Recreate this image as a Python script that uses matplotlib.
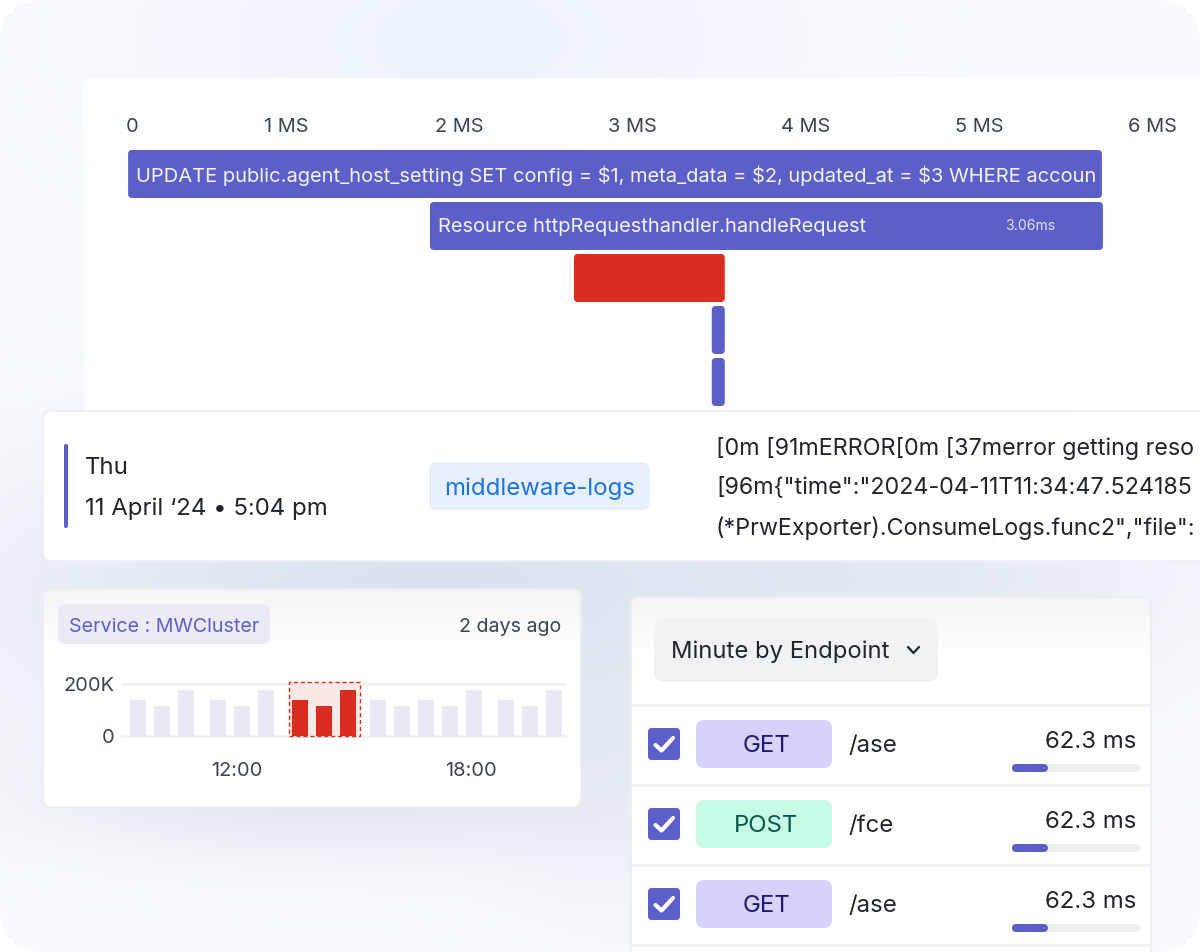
import matplotlib
matplotlib.use("Agg")
import matplotlib.pyplot as plt
import matplotlib.transforms as mtrans
from matplotlib.patches import FancyBboxPatch
import numpy as np

plt.rcParams['font.family'] = ['Inter', 'DejaVu Sans']

# timeline
tick_ms = [0, 1, 2, 3, 4, 5, 6]
tick_labels = ['0', '1 MS', '2 MS', '3 MS', '4 MS', '5 MS', '6 MS']
span_start = [0.09, 1.831, 2.661, 3.456, 3.456]
span_end = [5.706, 5.712, 3.531, 3.531, 3.531]
span_kind = ['ok', 'ok', 'error', 'ok', 'ok']
span_text = ['UPDATE public.agent_host_setting SET config = $1, meta_data = $2, updated_at = $3 WHERE accoun',
             'Resource httpRequesthandler.handleRequest', '', '', '']

# log line
log_lines = ['[0m [91mERROR[0m [37merror getting reso',
             '[96m{"time":"2024-04-11T11:34:47.524185',
             '(*PrwExporter).ConsumeLogs.func2","file":']

# mini bar chart
bar_hours = [9.46, 10.08, 10.69, 11.51, 12.13, 12.74, 13.62, 14.23, 14.85,
             15.62, 16.23, 16.85, 17.46, 18.08, 18.9, 19.51, 20.13]
bar_values = [138, 115, 177, 138, 115, 177, 138, 115, 177,
              138, 115, 138, 115, 177, 138, 115, 177]
bar_error = [False] * 6 + [True] * 3 + [False] * 8

# endpoint table
methods = ['GET', 'POST', 'GET']
paths = ['/ase', '/fce', '/ase']
latency_ms = [62.3, 62.3, 62.3]
latency_fill = [28, 28, 28]

W, H = 1200, 952
INDIGO = '#5c5fc7'
RED = '#da2c1f'
DARK = '#20242c'
SLATE = '#3a4454'


def fs(px):
    return px * 0.72


def px_axes(x0, y0, x1, y1):
    a = fig.add_axes([x0 / W, 1 - y1 / H, (x1 - x0) / W, (y1 - y0) / H])
    a.patch.set_visible(False)
    for s in a.spines.values():
        s.set_visible(False)
    return a


def box(x0, y0, x1, y1, r, color, **kw):
    p = FancyBboxPatch((x0, y0), x1 - x0, y1 - y0,
                       boxstyle=f'round,pad=0,rounding_size={r}',
                       facecolor=color, edgecolor=kw.pop('edgecolor', 'none'), **kw)
    base.add_patch(p)
    return p


def rbar(a, x0, x1, yc, h, rpx, color):
    # rounded bar in data units of a, corners stay round in pixels
    bb = a.get_window_extent()
    sx = bb.width / abs(np.diff(a.get_xlim())[0])
    sy = bb.height / abs(np.diff(a.get_ylim())[0])
    p = FancyBboxPatch((x0, yc - h / 2), x1 - x0, h,
                       boxstyle=f'round,pad=0,rounding_size={rpx / sx}',
                       mutation_aspect=sx / sy, facecolor=color, edgecolor='none')
    a.add_patch(p)


def blob(img, cx, cy, sx, sy, color, strength=1.0):
    a = strength * np.exp(-((xx - cx) / sx) ** 2 - ((yy - cy) / sy) ** 2)
    img[:] = img * (1 - a[..., None]) + np.array(color) * a[..., None]


def rgb(h):
    return matplotlib.colors.to_rgb(h)


fig = plt.figure(figsize=(W / 100, H / 100), dpi=100, facecolor='white')
base = fig.add_axes([0, 0, 1, 1])
base.set_xlim(0, W)
base.set_ylim(H, 0)
base.axis('off')

# page background
yy, xx = np.mgrid[0:H, 0:W]
bg = np.ones((H, W, 3)) * np.array(rgb('#f9fbfe'))
blob(bg, 470, 40, 320, 160, rgb('#edf3fe'))
blob(bg, 480, 600, 500, 170, rgb('#d9e2ee'))
blob(bg, 900, 570, 260, 90, rgb('#dfe6f1'), 0.6)
blob(bg, 620, 740, 130, 170, rgb('#e3eaf4'), 0.6)
blob(bg, 330, 790, 300, 65, rgb('#e0e5ee'), 0.8)
im = base.imshow(bg, extent=(0, W, H, 0), aspect='auto', zorder=0)
frame = FancyBboxPatch((0, 0), W, H, boxstyle='round,pad=0,rounding_size=42',
                       transform=base.transData, facecolor='none', edgecolor='none')
base.add_patch(frame)
im.set_clip_path(frame)
base.set_xlim(0, W)
base.set_ylim(H, 0)

# main timeline card
box(84, 78, 1240, 440, 10, 'white', alpha=0.86, zorder=1)

tl = px_axes(84, 136, 1200, 410)
x0_px, sx_ms = 112.5, 173.4
tl.set_xlim((84 - x0_px) / sx_ms, (1200 - x0_px) / sx_ms)
tl.set_ylim((410 - 174) / 52, (136 - 174) / 52)
tl.xaxis.tick_top()
tl.set_xticks(tick_ms, tick_labels, fontsize=fs(20), color=SLATE)
tl.set_yticks([])
tl.tick_params(axis='x', length=0, pad=0)
# the zero label sits at the start of the first span, not on its own tick
zero_lab = tl.get_xticklabels()[0]
zero_lab.set_transform(zero_lab.get_transform() + mtrans.ScaledTranslation(19.5 / 100, 0, fig.dpi_scale_trans))
for i in range(len(span_start)):
    c = RED if span_kind[i] == 'error' else INDIGO
    rbar(tl, span_start[i], span_end[i], i, 48 / 52, 4, c)
    if span_text[i]:
        tl.text(span_start[i] + 8 / sx_ms, i - 0.01, span_text[i], color='#f4f4fd', fontsize=fs(20.1),
                va='center_baseline', ha='left')
tl.text(5.29, 0.98, '3.06ms', color='#e3e3f6', fontsize=fs(14), va='center_baseline', ha='center')

# log card
box(43, 411, 1240, 561, 8, 'white', edgecolor='#eef0f5', linewidth=1.5, zorder=2)
box(64, 444, 68, 528, 2, INDIGO, zorder=3)
base.text(85, 466, 'Thu', fontsize=fs(24), color=DARK, va='center_baseline', zorder=3)
base.text(85, 506, '11 April ‘24 • 5:04 pm', fontsize=fs(24), color=DARK, va='center_baseline', zorder=3)
box(429, 462, 650, 510, 8, '#e8f0fd', zorder=3)
base.text(540, 486, 'middleware-logs', fontsize=fs(24), color='#1a73e8', ha='center', va='center_baseline', zorder=3)
for line, y in zip(log_lines, [446, 486, 526]):
    base.text(716, y, line, fontsize=fs(23.3), color=DARK, va='center_baseline', zorder=3)


def grad_card(x0, y0, x1, y1, r):
    p = box(x0, y0, x1, y1, r, 'white', zorder=4)
    g = np.linspace(0, 1, 60)[:, None, None] * np.ones((60, 1, 3))
    g = np.array(rgb('#f4f5f6')) * (1 - g) + g
    i2 = base.imshow(g, extent=(x0, x1, y0 + 60, y0), aspect='auto', zorder=4.1)
    i2.set_clip_path(p)
    box(x0, y0, x1, y1, r, 'none', edgecolor='#eceef3', linewidth=1.5, zorder=4.2)
    base.set_xlim(0, W)
    base.set_ylim(H, 0)


# service card
grad_card(43, 589, 581, 807, 8)
box(58, 604, 270, 644, 8, '#eaebf6', zorder=5)
base.text(69, 625, 'Service : MWCluster', fontsize=fs(19.7), color=INDIGO, va='center_baseline', zorder=5)
base.text(561, 625, '2 days ago', fontsize=fs(19.7), color=SLATE, ha='right', va='center_baseline', zorder=5)

mini = px_axes(121, 678, 567, 740)
mini.set_zorder(1)
sc = 52 / 200
mini.set_ylim(-4 / sc, 58 / sc)
mini.set_xlim(12 + (121 - 237) / 39, 12 + (567 - 237) / 39)
mini.set_yticks([0, 200], ['0', '200K'], fontsize=fs(20), color=SLATE)
mini.set_xticks([12, 18], ['12:00', '18:00'], fontsize=fs(20), color=SLATE)
mini.tick_params(axis='both', length=0)
mini.tick_params(axis='y', pad=4.5)
mini.tick_params(axis='x', pad=15.5)
mini.grid(axis='y', color='#f0f0f7', linewidth=2.2)
mini.set_axisbelow(True)
mini.axvspan(13.33, 15.15, ymin=4 / 62, ymax=58 / 62, facecolor='#fbe9e7', edgecolor=RED,
             linestyle=(0, (3, 2)), linewidth=1)
mini.bar(bar_hours, bar_values, width=16 / 39,
         color=[RED if e else '#e9e9f3' for e in bar_error], zorder=3)

# endpoint card
grad_card(631, 597, 1151, 990, 8)
box(654, 618, 938, 682, 10, '#f1f2f4', zorder=5)
base.text(671, 649.5, 'Minute by Endpoint', fontsize=fs(23.8), color=DARK, va='center_baseline', zorder=5)
base.plot([908, 913.5, 919], [647, 653, 647], color=DARK, lw=1.6, solid_capstyle='round', zorder=5)
pill_colors = {'GET': ('#d5d3fd', '#1c1a6f'), 'POST': ('#c7fce5', '#06574f')}
for y in [705, 785, 865, 945]:
    base.plot([632, 1150], [y, y], color='#f0f1f6', lw=2.2, zorder=5)
for i, m in enumerate(methods):
    top = 80 * i
    box(648, 728 + top, 680, 760 + top, 4, INDIGO, zorder=5)
    base.plot([655.5, 661.5, 673], [745 + top, 750.5 + top, 738 + top], color='white', lw=3,
              solid_capstyle='round', solid_joinstyle='round', zorder=6)
    box(696, 720 + top, 832, 768 + top, 8, pill_colors[m][0], zorder=5)
    base.text(766, 744 + top, m, fontsize=fs(24), color=pill_colors[m][1], ha='center', va='center_baseline', zorder=6)
    base.text(848, 743.5 + top, paths[i], fontsize=fs(24), color=DARK, va='center_baseline', zorder=6)
    base.text(1136, 739 + top, f'{latency_ms[i]} ms', fontsize=fs(24), color=DARK, ha='right', va='center_baseline', zorder=6)
    bar_ax = px_axes(1012, 764 + top, 1140, 772 + top)
    bar_ax.set_xlim(0, 100)
    bar_ax.set_ylim(-0.5, 0.5)
    bar_ax.axis('off')
    rbar(bar_ax, 0, 100, 0, 1, 4, '#eeeeee')
    rbar(bar_ax, 0, latency_fill[i], 0, 1, 4, INDIGO)

fig.savefig('out.png', dpi=100)
